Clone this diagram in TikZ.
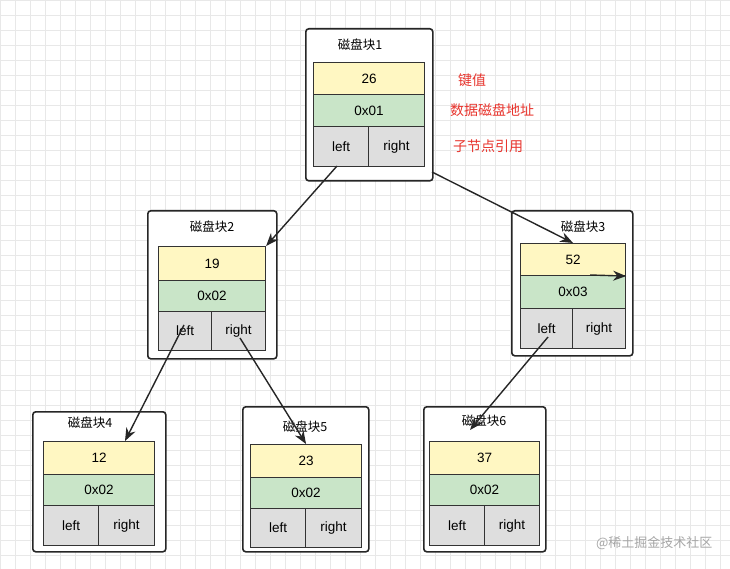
\documentclass[tikz,border=0pt]{standalone}
\usepackage{fontspec}
\setmainfont{Liberation Sans}
\newfontfamily\cjk{Noto Sans CJK SC}
\usetikzlibrary{arrows.meta}
\definecolor{yel}{HTML}{FFF7C2}
\definecolor{grn}{HTML}{C9E5C8}
\definecolor{gry}{HTML}{DEDEDE}
\definecolor{rd}{HTML}{E8352E}
\tikzset{
 outer/.style={draw=black!85,line width=1.6pt,rounded corners=3pt,fill=white},
 cell/.style={draw=black!80,line width=1.1pt},
 t/.style={font=\fontsize{13.5}{15}\selectfont},
 ttl/.style={font=\cjk\fontsize{12.5}{14}\selectfont},
 lab/.style={font=\cjk\fontsize{14}{16}\selectfont,text=rd},
 arr/.style={draw=black!85,line width=1.4pt,-{Stealth[length=13pt,width=10pt]}},
}
\begin{document}
\begin{tikzpicture}[x=1pt,y=-1pt]
\fill[white] (0,0) rectangle (730,569);
\useasboundingbox (0,0) rectangle (730,569);
\foreach \i in {0,15,...,730} \draw[black!9,line width=0.5pt] (\i,0)--(\i,569);
\foreach \i in {0,15,...,569} \draw[black!9,line width=0.5pt] (0,\i)--(730,\i);
% Block 1
\node[outer,anchor=north west,minimum width=127,minimum height=152] (b1) at (305,28) {};
\node[ttl] (b1t) at (360,45) {磁盘块1};
\node[cell,fill=yel,anchor=north west,minimum width=111,minimum height=32,t] (b1k) at (313,62) {26};
\node[cell,fill=grn,anchor=north west,minimum width=111,minimum height=32,t] (b1a) at (313,94) {0x01};
\node[cell,fill=gry,anchor=north west,minimum width=55,minimum height=40,t] (b1l) at (313,126) {left};
\node[cell,fill=gry,anchor=north west,minimum width=56,minimum height=40,t] (b1r) at (368,126) {right};
% Block 2
\node[outer,anchor=north west,minimum width=129,minimum height=148] (b2) at (147,210) {};
\node[ttl] (b2t) at (212,227) {磁盘块2};
\node[cell,fill=yel,anchor=north west,minimum width=107,minimum height=34,t] (b2k) at (158,246) {19};
\node[cell,fill=grn,anchor=north west,minimum width=107,minimum height=31,t] (b2a) at (158,280) {0x02};
\node[cell,fill=gry,anchor=north west,minimum width=53,minimum height=39,t] (b2l) at (158,311) {left};
\node[cell,fill=gry,anchor=north west,minimum width=54,minimum height=39,t] (b2r) at (211,311) {right};
% Block 3
\node[outer,anchor=north west,minimum width=121,minimum height=145] (b3) at (511,210) {};
\node[ttl] (b3t) at (583,227) {磁盘块3};
\node[cell,fill=yel,anchor=north west,minimum width=105,minimum height=32,t] (b3k) at (520,243) {52};
\node[cell,fill=grn,anchor=north west,minimum width=105,minimum height=33,t] (b3a) at (520,275) {0x03};
\node[cell,fill=gry,anchor=north west,minimum width=52,minimum height=40,t] (b3l) at (520,308) {left};
\node[cell,fill=gry,anchor=north west,minimum width=53,minimum height=40,t] (b3r) at (572,308) {right};
% Block 4
\node[outer,anchor=north west,minimum width=133,minimum height=140] (b4) at (32,411) {};
\node[ttl] (b4t) at (90,423) {磁盘块4};
\node[cell,fill=yel,anchor=north west,minimum width=111,minimum height=33,t] (b4k) at (43,441) {12};
\node[cell,fill=grn,anchor=north west,minimum width=111,minimum height=31,t] (b4a) at (43,474) {0x02};
\node[cell,fill=gry,anchor=north west,minimum width=55,minimum height=40,t] (b4l) at (43,505) {left};
\node[cell,fill=gry,anchor=north west,minimum width=56,minimum height=40,t] (b4r) at (98,505) {right};
% Block 5
\node[outer,anchor=north west,minimum width=126,minimum height=145] (b5) at (242,406) {};
\node[ttl] (b5t) at (305,427) {磁盘块5};
\node[cell,fill=yel,anchor=north west,minimum width=111,minimum height=33,t] (b5k) at (250,444) {23};
\node[cell,fill=grn,anchor=north west,minimum width=111,minimum height=31,t] (b5a) at (250,477) {0x02};
\node[cell,fill=gry,anchor=north west,minimum width=55,minimum height=39,t] (b5l) at (250,508) {left};
\node[cell,fill=gry,anchor=north west,minimum width=56,minimum height=39,t] (b5r) at (305,508) {right};
% Block 6
\node[outer,anchor=north west,minimum width=122,minimum height=145] (b6) at (423,406) {};
\node[ttl] (b6t) at (484,421) {磁盘块6};
\node[cell,fill=yel,anchor=north west,minimum width=110,minimum height=33,t] (b6k) at (429,441) {37};
\node[cell,fill=grn,anchor=north west,minimum width=110,minimum height=31,t] (b6a) at (429,474) {0x02};
\node[cell,fill=gry,anchor=north west,minimum width=55,minimum height=40,t] (b6l) at (429,505) {left};
\node[cell,fill=gry,anchor=north west,minimum width=55,minimum height=40,t] (b6r) at (484,505) {right};
% labels
\node[lab] (l1) at (472,80) {键值};
\node[lab] (l2) at (492,110) {数据磁盘地址};
\node[lab] (l3) at (488,146) {子节点引用};
% arrows
\coordinate (s1) at (337,166);
\coordinate (s2) at (432,172);
\coordinate (s4) at (184,325);
\coordinate (s5) at (240,338);
\coordinate (s6) at (548,337);
\coordinate (s3) at (590,275);
\coordinate (e4) at (125,441);
\coordinate (e6) at (470,430);
\draw[arr] (s1) -- (b2k.north east);
\draw[arr] (s2) -- (b3k.north);
\draw[arr] (s4) -- (e4);
\draw[arr] (s5) -- (b5k.north);
\draw[arr] (s6) -- (e6);
\draw[arr] (s3) -- (b3k.south east);
\node[font=\cjk\fontsize{13}{15}\selectfont,text=black!35,anchor=east] (wm) at (716,543) {@稀土掘金技术社区};
\end{tikzpicture}
\end{document}
